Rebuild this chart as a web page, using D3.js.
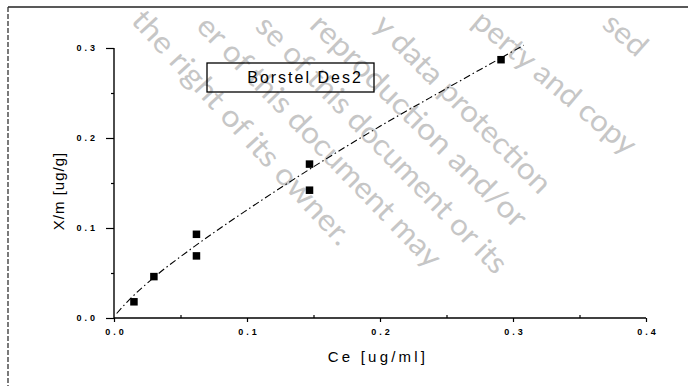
<!DOCTYPE html>
<html>
<head>
<meta charset="utf-8">
<script src="https://cdn.jsdelivr.net/npm/d3@7"></script>
<style>
  html, body { margin: 0; padding: 0; background: #fff; }
  svg { display: block; }
</style>
</head>
<body>
<svg id="chart" width="688" height="387"></svg>
<script>
// ---- data ----
const ceValues = [0.015, 0.030, 0.062, 0.062, 0.147, 0.147, 0.291];   // Ce [ug/ml]
const xmValues = [0.018, 0.046, 0.069, 0.093, 0.142, 0.171, 0.287];   // X/m [ug/g]
const fitCe = [0.002, 0.010, 0.030, 0.060, 0.100, 0.150, 0.200, 0.250, 0.308];
const fitXm = [0.005, 0.018, 0.045, 0.079, 0.120, 0.168, 0.213, 0.255, 0.303];
const xTicks = [0, 0.1, 0.2, 0.3, 0.4];
const xTickLabels = ["0.0", "0.1", "0.2", "0.3", "0.4"];
const xMinorTicks = [0.05, 0.15, 0.25, 0.35];
const yTicks = [0, 0.1, 0.2, 0.3];
const yTickLabels = ["0.0", "0.1", "0.2", "0.3"];
const yMinorTicks = [0.05, 0.15, 0.25];
const legendLabel = "Borstel Des2";
const xTitle = "Ce [ug/ml]";
const yTitle = "X/m [ug/g]";
const watermarkLines = [
  "the right of its owner.",
  "er of this document may",
  "se of this document or its",
  "reproduction and/or",
  "y data protection",
  "perty and copy",
  "sed"
];

// ---- drawing ----
const svg = d3.select("#chart");
const x = d3.scaleLinear().domain([0, 0.4]).range([114, 646]);
const y = d3.scaleLinear().domain([0, 0.3]).range([318, 48]);

// watermark (behind everything): start / end points of each visible line
const wmGeom = [
  [[138, 14], [347, 240]],
  [[203, 20], [437, 262]],
  [[262, 20], [503, 268]],
  [[316, 19], [523, 222]],
  [[380, 19], [547, 188]],
  [[478, 16], [633, 148]],
  [[608, 18], [644, 50]]
];
const wm = svg.append("g").attr("fill", "#c6c6c6")
  .style("font-family", "Lato, 'Open Sans', sans-serif").style("font-size", "30px");
watermarkLines.forEach((t, i) => {
  const [[sx, sy], [ex, ey]] = wmGeom[i];
  const ang = Math.atan2(ey - sy, ex - sx) * 180 / Math.PI;
  const len = Math.hypot(ex - sx, ey - sy);
  wm.append("text").attr("text-anchor", "start")
    .attr("transform", `translate(${sx},${sy}) rotate(${ang}) translate(0,11)`)
    .attr("textLength", len).attr("lengthAdjust", "spacingAndGlyphs")
    .text(t);
});

// outer frame
svg.append("line").attr("x1", 8).attr("x2", 688).attr("y1", 7).attr("y2", 7)
  .attr("stroke", "#222").attr("stroke-width", 1.5);
svg.append("line").attr("x1", 8).attr("x2", 8).attr("y1", 7).attr("y2", 386)
  .attr("stroke", "#333").attr("stroke-width", 1.3).attr("stroke-dasharray", "5,2");

const tickFont = g => g.selectAll("text")
  .style("font-family", "'Liberation Sans', Arial, sans-serif")
  .style("font-size", "9px").style("font-weight", "bold")
  .style("letter-spacing", "3px").attr("fill", "#000");

// x axis
const xAxis = svg.append("g").attr("transform", "translate(0,318)")
  .call(d3.axisBottom(x).tickValues(xTicks).tickSize(4).tickPadding(7)
    .tickFormat((d, i) => xTickLabels[i]));
xAxis.select(".domain").attr("stroke", "#000").attr("stroke-width", 1.4)
  .attr("d", `M${x(0)},0H${x(0.4)}`);
xAxis.selectAll(".tick line").attr("stroke", "#000").attr("stroke-width", 1.2);
xAxis.call(tickFont);
xAxis.selectAll(".tick text").attr("dx", "1.5px");
svg.append("g").attr("transform", "translate(0,318)")
  .call(d3.axisTop(x).tickValues(xMinorTicks).tickSize(3).tickFormat(""))
  .call(g => g.select(".domain").remove())
  .selectAll("line").attr("stroke", "#000").attr("stroke-width", 1.2);

// y axis
const yAxis = svg.append("g").attr("transform", "translate(114,0)")
  .call(d3.axisLeft(y).tickValues(yTicks).tickSize(8).tickPadding(8)
    .tickFormat((d, i) => yTickLabels[i]));
yAxis.select(".domain").attr("stroke", "#000").attr("stroke-width", 1.4)
  .attr("d", `M0,${y(0)}V${y(0.3)}`);
yAxis.selectAll(".tick line").attr("stroke", "#000").attr("stroke-width", 1.2);
yAxis.call(tickFont);
svg.append("g").attr("transform", "translate(114,0)")
  .call(d3.axisLeft(y).tickValues(yMinorTicks).tickSize(3).tickFormat(""))
  .call(g => g.select(".domain").remove())
  .selectAll("line").attr("stroke", "#000").attr("stroke-width", 1.2);

// fit line
const fitData = fitCe.map((c, i) => [c, fitXm[i]]);
svg.append("path").datum(fitData)
  .attr("fill", "none").attr("stroke", "#000").attr("stroke-width", 1.1)
  .attr("stroke-dasharray", "7,3,1.5,3")
  .attr("d", d3.line().x(d => x(d[0])).y(d => y(d[1])).curve(d3.curveMonotoneX));

// data points
const pts = ceValues.map((c, i) => [c, xmValues[i]]);
const sq = 7.5;
svg.append("g").selectAll("rect").data(pts).join("rect")
  .attr("x", d => x(d[0]) - sq / 2).attr("y", d => y(d[1]) - sq / 2)
  .attr("width", sq).attr("height", sq).attr("fill", "#000");

// legend
svg.append("rect").attr("x", 207).attr("y", 63).attr("width", 167).attr("height", 29)
  .attr("fill", "none").attr("stroke", "#000").attr("stroke-width", 1.3);
svg.append("text").attr("x", 305).attr("y", 83).attr("text-anchor", "middle")
  .style("font-family", "'Liberation Sans', Arial, sans-serif").style("font-size", "16px")
  .style("letter-spacing", "2px").text(legendLabel);

// axis titles
svg.append("text").attr("x", 378).attr("y", 362).attr("text-anchor", "middle")
  .style("font-family", "'Liberation Sans', Arial, sans-serif").style("font-size", "15px")
  .style("letter-spacing", "3.2px").text(xTitle);
svg.append("text").attr("transform", "translate(64,191) rotate(-90)").attr("text-anchor", "middle")
  .style("font-family", "'Liberation Sans', Arial, sans-serif").style("font-size", "15px")
  .style("letter-spacing", "1px").text(yTitle);
</script>
</body>
</html>
